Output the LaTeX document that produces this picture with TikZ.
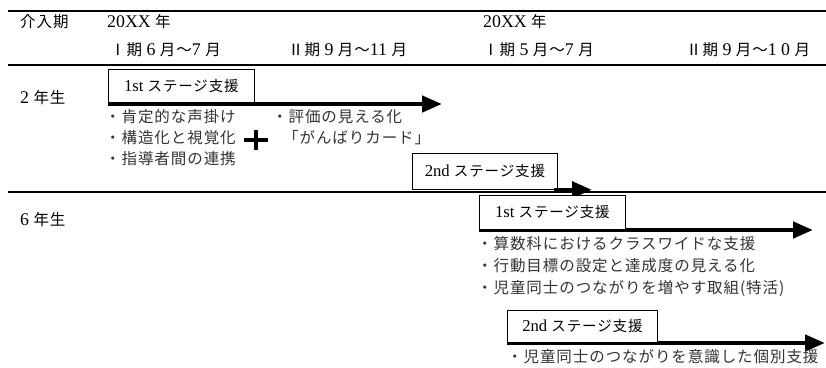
\documentclass[tikz,border=0pt]{standalone}
\usepackage{fontspec}
\setmainfont{Liberation Serif}[Scale=1.15]
\newfontfamily\cjk[LetterSpace=6]{Noto Sans CJK JP}
\newcommand{\jtxt}[1]{{\cjk #1}}
\usetikzlibrary{arrows.meta}
\begin{document}
\begin{tikzpicture}[x=1pt,y=-1pt,
  every node/.style={inner sep=0pt, anchor=west},
  lbl/.style={font=\fontsize{15.5}{18}\selectfont},
  bullet/.style={font=\fontsize{15.5}{18}\selectfont, text=black!80},
  stagebox/.style={draw, line width=0.8pt, fill=white, minimum width=146pt,
    minimum height=34pt, anchor=north west, font=\fontsize{14.5}{16}\selectfont},
  rule/.style={line width=1.8pt},
  bigarrow/.style={line width=4.5pt, -{Triangle[length=20pt,width=16pt]}},
]
\useasboundingbox (0,0) rectangle (826,367);

% horizontal rules
\draw[rule] (8,11) -- (826,11);
\draw[rule] (8,65) -- (826,65);
\draw[line width=1.5pt] (8,192) -- (826,192);

% header
\node[lbl] (h0) at (20,22) {\jtxt{介入期}};
\node[lbl] (h1) at (107,22) {20XX \jtxt{年}};
\node[lbl] (h2) at (110,50) {\jtxt{Ⅰ期} 6 \jtxt{月～}7 \jtxt{月}};
\node[lbl] (h3) at (288,50) {\jtxt{Ⅱ期} 9 \jtxt{月～}11 \jtxt{月}};
\node[lbl] (h4) at (483,22) {20XX \jtxt{年}};
\node[lbl] (h5) at (483,50) {\jtxt{Ⅰ期} 5 \jtxt{月～}7 \jtxt{月}};
\node[lbl] (h6) at (686,50) {\jtxt{Ⅱ期} 9 \jtxt{月～}1 0 \jtxt{月}};

% row labels
\node[lbl] (g2) at (20,98) {2 \jtxt{年生}};
\node[lbl] (g6) at (20,220) {6 \jtxt{年生}};

% 2nd grade, stage 1
\coordinate (e1) at (442,104);
\draw[bigarrow] ([yshift=-2pt]108,102) coordinate (a1) -- (a1 -| e1);
\node[stagebox, minimum height=33pt] (s1) at (108,69) {1st \jtxt{ステージ支援}};
\node[bullet] (t1) at (105,117) {\jtxt{・肯定的な声掛け}};
\node[bullet] (t2) at (105,138) {\jtxt{・構造化と視覚化}};
\node[bullet] (t3) at (105,159) {\jtxt{・指導者間の連携}};
\coordinate (plus) at (256,140);
\draw[line width=3.8pt] ([xshift=-12pt]plus) -- ([xshift=12pt]plus)
  ([yshift=-10pt]plus) -- ([yshift=10pt]plus);
\node[bullet] (t4) at (272,117) {\jtxt{・評価の見える化}};
\node[bullet] (t5) at (283,138) {\jtxt{「がんばりカード」}};

% 2nd grade, stage 2
\node[stagebox, minimum width=145pt, minimum height=36pt] (s2) at (412,153) {2nd \jtxt{ステージ支援}};
\coordinate (e2) at (592,190);
\draw[bigarrow] ([xshift=-4pt]s2.south east) -- (s2.south east -| e2);

% 6th grade, stage 1
\coordinate (e3) at (813,230);
\draw[bigarrow] ([yshift=-1pt]479,229) coordinate (a3) -- (a3 -| e3);
\node[stagebox] (s3) at (479,195) {1st \jtxt{ステージ支援}};
\node[bullet] (u1) at (477,244) {\jtxt{・算数科におけるクラスワイドな支援}};
\node[bullet] (u2) at (477,266) {\jtxt{・行動目標の設定と達成度の見える化}};
\node[bullet] (u3) at (477,288) {\jtxt{・児童同士のつながりを増やす取組(特活)}};

% 6th grade, stage 2
\coordinate (e4) at (825,343);
\draw[bigarrow] ([yshift=-1pt]507,342) coordinate (a4) -- (a4 -| e4);
\node[stagebox, minimum width=150pt, minimum height=32pt] (s4) at (507,310) {2nd \jtxt{ステージ支援}};
\node[bullet] (u4) at (507,357) {\jtxt{・児童同士のつながりを意識した個別支援}};
\end{tikzpicture}
\end{document}
